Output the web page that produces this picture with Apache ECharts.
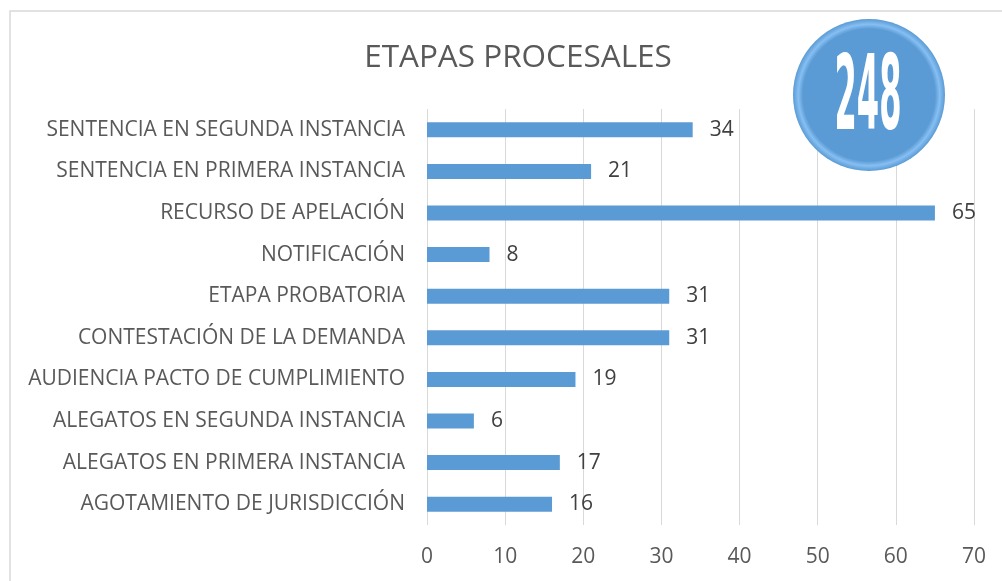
<!DOCTYPE html>
<html>
<head>
<meta charset="utf-8">
<script src="https://cdn.jsdelivr.net/npm/echarts@6/dist/echarts.min.js"></script>
<style>
  html, body { margin: 0; padding: 0; background: #fff; }
  #chart { width: 1002px; height: 581px; }
</style>
</head>
<body>
<div id="chart"></div>
<script>
// bottom-to-top order, as the category axis draws them
const categories = [
  "AGOTAMIENTO DE JURISDICCIÓN",
  "ALEGATOS EN PRIMERA INSTANCIA",
  "ALEGATOS EN SEGUNDA INSTANCIA",
  "AUDIENCIA PACTO DE CUMPLIMIENTO",
  "CONTESTACIÓN DE LA DEMANDA",
  "ETAPA PROBATORIA",
  "NOTIFICACIÓN",
  "RECURSO DE APELACIÓN",
  "SENTENCIA EN PRIMERA INSTANCIA",
  "SENTENCIA EN SEGUNDA INSTANCIA",
];
const counts = [16, 17, 6, 19, 31, 31, 8, 65, 21, 34];
const totalLabel = "248";
const titleText = "ETAPAS PROCESALES";

const font = "'Open Sans', sans-serif";

const chart = echarts.init(document.getElementById("chart"));

chart.setOption({
  animation: false,
  title: {
    text: titleText,
    left: 513,
    textAlign: "center",
    top: 37,
    textStyle: { fontFamily: font, fontSize: 31.5, fontWeight: "normal", color: "#595959" },
  },
  grid: { left: 427, right: 28, top: 109, bottom: 56 },
  xAxis: {
    type: "value",
    min: 0,
    max: 70,
    interval: 10,
    axisLine: { show: false },
    axisTick: { show: false },
    splitLine: { lineStyle: { color: "#d9d9d9", width: 1 } },
    axisLabel: { margin: 22, fontFamily: font, fontSize: 21, color: "#595959" },
  },
  yAxis: {
    type: "category",
    data: categories,
    axisLine: { show: false },
    axisTick: { show: false },
    axisLabel: { margin: 22, fontFamily: font, fontSize: 21, color: "#595959" },
  },
  series: [
    {
      type: "bar",
      data: counts,
      barWidth: 15,
      itemStyle: { color: "#5b9bd5" },
      label: {
        show: true,
        position: "right",
        distance: 17,
        fontFamily: font,
        fontSize: 21,
        color: "#404040",
      },
    },
  ],
  graphic: [
    {
      type: "rect",
      shape: { x: 10, y: 11, width: 1000, height: 600 },
      style: { fill: "none", stroke: "#d9d9d9", lineWidth: 1.5 },
      silent: true,
    },
    {
      type: "circle",
      shape: { cx: 869, cy: 95, r: 76 },
      style: {
        fill: {
          type: "radial",
          x: 0.5, y: 0.5, r: 0.5,
          colorStops: [
            { offset: 0, color: "#5b9bd5" },
            { offset: 0.87, color: "#5b9bd5" },
            { offset: 0.93, color: "#86bff2" },
            { offset: 1, color: "#5a9ad4" },
          ],
        },
      },
      z: 10,
    },
    {
      type: "text",
      x: 868,
      y: 102,
      scaleX: 0.42,
      scaleY: 1.22,
      style: {
        text: totalLabel,
        fontFamily: "'Liberation Sans Narrow', 'DejaVu Sans Condensed', sans-serif",
        fontWeight: "bold",
        fontSize: 85,
        fill: "#fff",
        align: "center",
        verticalAlign: "middle",
      },
      z: 11,
    },
  ],
});
</script>
</body>
</html>
